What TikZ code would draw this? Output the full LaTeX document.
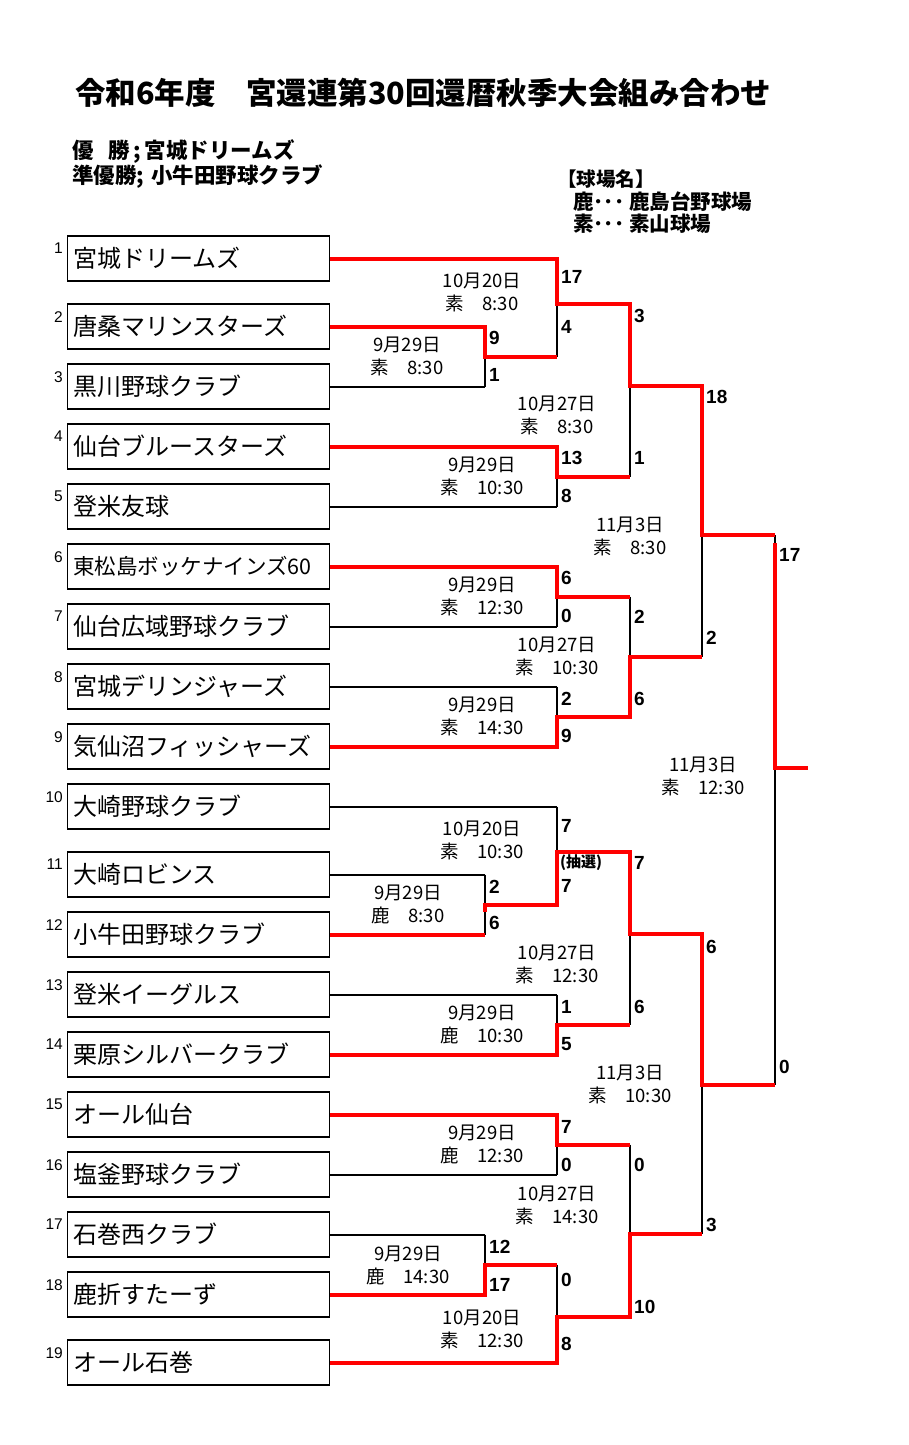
\documentclass[tikz,border=0pt]{standalone}
\usepackage{fontspec}
\setmainfont{Noto Sans CJK JP}
\newfontfamily\lat{Liberation Sans}
\newcommand\myfs[1]{\fontsize{#1}{#1}\selectfont}
\newcommand\dlabel[5]{\node[datebox] (#1) at (#2,#3) {#4\\#5};}
\newcommand\slabel[4]{\node[score] (#1) at (#2,#3) {#4};}
\begin{document}
\begin{tikzpicture}[x=1pt,y=-1pt,
  team/.style={draw, line width=1.8pt, text width=250pt, inner xsep=6pt, inner ysep=0pt,
    minimum height=45pt, align=left, anchor=west, font=\myfs{24}},
  seed/.style={font=\lat\myfs{15.5}, inner sep=0pt, anchor=north east},
  score/.style={font=\lat\bfseries\myfs{19}, inner sep=0pt, anchor=west},
  datebox/.style={font=\fontsize{18.5}{23}\selectfont, align=center, inner sep=0pt},
  head/.style={font=\bfseries\myfs{21.5}, inner sep=0pt, anchor=west},
  blk/.style={line width=2pt, black},
  rd/.style={line width=4pt, red}]
\useasboundingbox (0,0) rectangle (908,1445);
\fill[white] (0,0) rectangle (908,1445);

% headers
\node[inner sep=0pt, anchor=west, font=\bfseries\myfs{30.5}] (title) at (75,93) {令和6年度　宮還連第30回還暦秋季大会組み合わせ};
\node[head] (win1) at (72,152) {優\hspace{15pt}勝\hspace{3pt};\hspace{4pt}宮城ドリームズ};
\node[head] (win2) at (72,177) {準優勝;\hspace{7pt}小牛田野球クラブ};
\node[inner sep=0pt, anchor=west, font=\bfseries\myfs{19.5}] (ven0) at (557,179) {【球場名】};
\node[inner sep=0pt, anchor=west, font=\bfseries\myfs{20.5}] (ven1) at (573,202) {鹿･･･ 鹿島台野球場};
\node[inner sep=0pt, anchor=west, font=\bfseries\myfs{20.5}] (ven2) at (573,224) {素･･･ 素山球場};

% teams
\node[team] (t1) at (66.5,258.5) {宮城ドリームズ};
\node[team] (t2) at (66.5,326.5) {唐桑マリンスターズ};
\node[team] (t3) at (66.5,386.5) {黒川野球クラブ};
\node[team] (t4) at (66.5,446.5) {仙台ブルースターズ};
\node[team] (t5) at (66.5,506.5) {登米友球};
\node[team, font=\myfs{21.5}] (t6) at (66.5,566.5) {東松島ボッケナインズ60};
\node[team] (t7) at (66.5,626.5) {仙台広域野球クラブ};
\node[team] (t8) at (66.5,686.5) {宮城デリンジャーズ};
\node[team] (t9) at (66.5,746.5) {気仙沼フィッシャーズ};
\node[team] (t10) at (66.5,806.5) {大崎野球クラブ};
\node[team] (t11) at (66.5,874.5) {大崎ロビンス};
\node[team] (t12) at (66.5,934.5) {小牛田野球クラブ};
\node[team] (t13) at (66.5,994.5) {登米イーグルス};
\node[team] (t14) at (66.5,1054.5) {栗原シルバークラブ};
\node[team] (t15) at (66.5,1114.5) {オール仙台};
\node[team] (t16) at (66.5,1174.5) {塩釜野球クラブ};
\node[team] (t17) at (66.5,1234.5) {石巻西クラブ};
\node[team] (t18) at (66.5,1294.5) {鹿折すたーず};
\node[team] (t19) at (66.5,1362.5) {オール石巻};

% seeds
\node[seed] (n1) at (63,243) {1};
\node[seed] (n2) at (63,311) {2};
\node[seed] (n3) at (63,371) {3};
\node[seed] (n4) at (63,431) {4};
\node[seed] (n5) at (63,491) {5};
\node[seed] (n6) at (63,551) {6};
\node[seed] (n7) at (63,611) {7};
\node[seed] (n8) at (63,671) {8};
\node[seed] (n9) at (63,731) {9};
\node[seed] (n10) at (63,791) {10};
\node[seed] (n11) at (63,859) {11};
\node[seed] (n12) at (63,919) {12};
\node[seed] (n13) at (63,979) {13};
\node[seed] (n14) at (63,1039) {14};
\node[seed] (n15) at (63,1099) {15};
\node[seed] (n16) at (63,1159) {16};
\node[seed] (n17) at (63,1219) {17};
\node[seed] (n18) at (63,1279) {18};
\node[seed] (n19) at (63,1347) {19};

% match coordinates: top, bottom, mid
\coordinate (m1t) at (485,326.5); \coordinate (m1b) at (485,386.5); \coordinate (m1) at (485,356.5);
\coordinate (m2t) at (557,258.5); \coordinate (m2b) at (557,356.5); \coordinate (m2) at (557,304);
\coordinate (m3t) at (557,446.5); \coordinate (m3b) at (557,506.5); \coordinate (m3) at (557,476.5);
\coordinate (m4t) at (630,304); \coordinate (m4b) at (630,476.5); \coordinate (m4) at (630,386);
\coordinate (m5t) at (557,566.5); \coordinate (m5b) at (557,626.5); \coordinate (m5) at (557,596.5);
\coordinate (m6t) at (557,686.5); \coordinate (m6b) at (557,746.5); \coordinate (m6) at (557,716.5);
\coordinate (m7t) at (630,596.5); \coordinate (m7b) at (630,716.5); \coordinate (m7) at (630,656.5);
\coordinate (m8t) at (702,386); \coordinate (m8b) at (702,656.5); \coordinate (m8) at (702,535);
\coordinate (m9t) at (485,874.5); \coordinate (m9b) at (485,934.5); \coordinate (m9) at (485,904.5);
\coordinate (m10t) at (557,806.5); \coordinate (m10b) at (557,904.5); \coordinate (m10) at (557,852);
\coordinate (m11t) at (557,994.5); \coordinate (m11b) at (557,1054.5); \coordinate (m11) at (557,1024.5);
\coordinate (m12t) at (630,852); \coordinate (m12b) at (630,1024.5); \coordinate (m12) at (630,934);
\coordinate (m13t) at (557,1114.5); \coordinate (m13b) at (557,1174.5); \coordinate (m13) at (557,1144.5);
\coordinate (m14t) at (485,1234.5); \coordinate (m14b) at (485,1294.5); \coordinate (m14) at (485,1264.5);
\coordinate (m15t) at (557,1264.5); \coordinate (m15b) at (557,1362.5); \coordinate (m15) at (557,1317);
\coordinate (m16t) at (630,1144.5); \coordinate (m16b) at (630,1317); \coordinate (m16) at (630,1234);
\coordinate (m17t) at (702,934); \coordinate (m17b) at (702,1234); \coordinate (m17) at (702,1085);
\coordinate (m18t) at (775,535); \coordinate (m18b) at (775,1085); \coordinate (m18) at (775,768);
\coordinate (m18s) at (775,543);
\coordinate (m9s) at (485,912);
\coordinate (champ) at (808,768);

% black bracket lines
\foreach \m in {1,...,18} { \draw[blk] (m\m t) -- (m\m b); }
\draw[blk] (t1.east) -- (m2t);
\draw[blk] (t2.east) -- (m1t);
\draw[blk] (t3.east) -- (m1b);
\draw[blk] (t4.east) -- (m3t);
\draw[blk] (t5.east) -- (m3b);
\draw[blk] (t6.east) -- (m5t);
\draw[blk] (t7.east) -- (m5b);
\draw[blk] (t8.east) -- (m6t);
\draw[blk] (t9.east) -- (m6b);
\draw[blk] (t10.east) -- (m10t);
\draw[blk] (t11.east) -- (m9t);
\draw[blk] (t12.east) -- (m9b);
\draw[blk] (t13.east) -- (m11t);
\draw[blk] (t14.east) -- (m11b);
\draw[blk] (t15.east) -- (m13t);
\draw[blk] (t16.east) -- (m13b);
\draw[blk] (t17.east) -- (m14t);
\draw[blk] (t18.east) -- (m14b);
\draw[blk] (t19.east) -- (m15b);

% red winner paths
\draw[rd] (t1.east) -- (m2t) -- (m2) -- (m4t) -- (m4) -- (m8t) -- (m8) -- (m18t);
\draw[rd] (m18s) -- (m18) -- (champ);
\draw[rd] (t2.east) -- (m1t) -- (m1) -- (m2b);
\draw[rd] (t4.east) -- (m3t) -- (m3) -- (m4b);
\draw[rd] (t6.east) -- (m5t) -- (m5) -- (m7t);
\draw[rd] (t9.east) -- (m6b) -- (m6) -- (m7b) -- (m7) -- (m8b);
\draw[rd] (t12.east) -- (m9b);
\draw[rd] (m9s) -- (m9) -- (m10b) -- (m10) -- (m12t) -- (m12) -- (m17t) -- (m17) -- (m18b);
\draw[rd] (t14.east) -- (m11b) -- (m11) -- (m12b);
\draw[rd] (t15.east) -- (m13t) -- (m13) -- (m16t);
\draw[rd] (t18.east) -- (m14b) -- (m14) -- (m15t);
\draw[rd] (t19.east) -- (m15b) -- (m15) -- (m16b) -- (m16) -- (m17b);

% scores
\slabel{s1a}{489}{338}{9}
\slabel{s1b}{489}{375}{1}
\slabel{s9a}{489}{887}{2}
\slabel{s9b}{489}{923}{6}
\slabel{s14a}{489}{1247}{12}
\slabel{s14b}{489}{1285}{17}
\slabel{s2a}{561}{277}{17}
\slabel{s2b}{561}{327}{4}
\slabel{s3a}{561}{458}{13}
\slabel{s3b}{561}{496}{8}
\slabel{s5a}{561}{578}{6}
\slabel{s5b}{561}{616}{0}
\slabel{s6a}{561}{699}{2}
\slabel{s6b}{561}{736}{9}
\slabel{s10a}{561}{826}{7}
\slabel{s10b}{561}{886}{7}
\node[inner sep=0pt, anchor=west, font=\bfseries\myfs{15}] (lot) at (560,863) {(抽選)};
\slabel{s11a}{561}{1007}{1}
\slabel{s11b}{561}{1044}{5}
\slabel{s13a}{561}{1127}{7}
\slabel{s13b}{561}{1165}{0}
\slabel{s15a}{561}{1280}{0}
\slabel{s15b}{561}{1344}{8}
\slabel{s4a}{634}{316}{3}
\slabel{s4b}{634}{458}{1}
\slabel{s7a}{634}{617}{2}
\slabel{s7b}{634}{699}{6}
\slabel{s12a}{634}{863}{7}
\slabel{s12b}{634}{1007}{6}
\slabel{s16a}{634}{1165}{0}
\slabel{s16b}{634}{1307}{10}
\slabel{s8a}{706}{397}{18}
\slabel{s8b}{706}{638}{2}
\slabel{s17a}{706}{947}{6}
\slabel{s17b}{706}{1225}{3}
\slabel{s18a}{779}{555}{17}
\slabel{s18b}{779}{1067}{0}

% dates
\dlabel{d1}{482}{292}{10月20日}{素　8:30}
\dlabel{d2}{407}{356.5}{9月29日}{素　8:30}
\dlabel{d3}{557}{415.5}{10月27日}{素　8:30}
\dlabel{d4}{482}{476.5}{9月29日}{素　10:30}
\dlabel{d5}{630}{536}{11月3日}{素　8:30}
\dlabel{d6}{482}{596.5}{9月29日}{素　12:30}
\dlabel{d7}{557}{656.5}{10月27日}{素　10:30}
\dlabel{d8}{482}{716.5}{9月29日}{素　14:30}
\dlabel{d9}{703}{776}{11月3日}{素　12:30}
\dlabel{d10}{482}{840.5}{10月20日}{素　10:30}
\dlabel{d11}{408}{904.5}{9月29日}{鹿　8:30}
\dlabel{d12}{557}{964.5}{10月27日}{素　12:30}
\dlabel{d13}{482}{1024.5}{9月29日}{鹿　10:30}
\dlabel{d14}{630}{1084}{11月3日}{素　10:30}
\dlabel{d15}{482}{1144.5}{9月29日}{鹿　12:30}
\dlabel{d16}{557}{1205}{10月27日}{素　14:30}
\dlabel{d17}{408}{1265}{9月29日}{鹿　14:30}
\dlabel{d18}{482}{1329}{10月20日}{素　12:30}
\end{tikzpicture}
\end{document}
